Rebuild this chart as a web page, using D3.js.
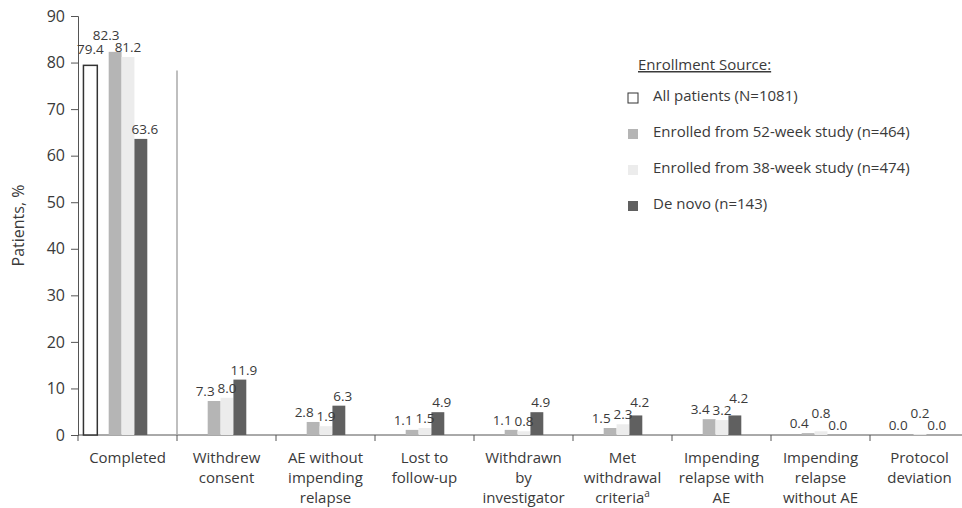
<!DOCTYPE html>
<html>
<head>
<meta charset="utf-8">
<script src="https://cdn.jsdelivr.net/npm/d3@7"></script>
<style>
  body { margin: 0; background: #fff; }
  svg { font-family: "Open Sans", sans-serif; }
</style>
</head>
<body>
<svg width="962" height="508"></svg>
<script>
// Reasons for study discontinuation, by enrollment source
const categories = [
    ["Completed"],
    ["Withdrew", "consent"],
    ["AE without", "impending", "relapse"],
    ["Lost to", "follow-up"],
    ["Withdrawn", "by", "investigator"],
    ["Met", "withdrawal", "criteria^a"],
    ["Impending", "relapse with", "AE"],
    ["Impending", "relapse", "without AE"],
    ["Protocol", "deviation"]
];
const allPatients = [79.4, null, null, null, null, null, null, null, null];
const wk52 = [82.3, 7.3, 2.8, 1.1, 1.1, 1.5, 3.4, 0.4, 0.0];
const wk38 = [81.2, 8.0, 1.9, 1.5, 0.8, 2.3, 3.2, 0.8, 0.2];
const deNovo = [63.6, 11.9, 6.3, 4.9, 4.9, 4.2, 4.2, 0.0, 0.0];
const yTicks = [0, 10, 20, 30, 40, 50, 60, 70, 80, 90];
const legendLabels = ["All patients (N=1081)", "Enrolled from 52-week study (n=464)",
    "Enrolled from 38-week study (n=474)", "De novo (n=143)"];

const series = [
    {key: "wk52", values: wk52, fill: "#b5b5b5", dx: -9},
    {key: "wk38", values: wk38, fill: "#ececec", dx: 0},
    {key: "deNovo", values: deNovo, fill: "#606060", dx: 4}
];

const svg = d3.select("svg");
const textColor = "#3a3a3a";
const plotLeft = 78, plotRight = 969, plotTop = 16, plotBottom = 435;

const x = d3.scaleBand().domain(d3.range(categories.length)).range([plotLeft, plotRight]);
const step = x.bandwidth();
const xSub = d3.scaleBand().domain(series.map(s => s.key)).range([step * 0.31, step * 0.7]);
const y = d3.scaleLinear().domain([0, 90]).range([plotBottom, plotTop]);

// y axis
const yAxis = svg.append("g")
    .attr("transform", "translate(" + plotLeft + ",0)")
    .call(d3.axisLeft(y).tickValues(yTicks).tickSize(7).tickPadding(6));
yAxis.select(".domain").attr("stroke", "#555");
yAxis.selectAll(".tick line").attr("stroke", "#555");
yAxis.selectAll("text").attr("font-size", 16).attr("fill", textColor)
    .attr("font-family", "'Open Sans', sans-serif");

svg.append("text")
    .attr("transform", "translate(24," + (y(45)) + ") rotate(-90)")
    .attr("text-anchor", "middle")
    .attr("font-size", 16)
    .attr("fill", textColor)
    .text("Patients, %");

// x axis
const xAxis = svg.append("g").attr("transform", "translate(0," + plotBottom + ")");
xAxis.append("line").attr("x1", plotLeft).attr("x2", plotRight).attr("stroke", "#555");
xAxis.selectAll("line.tick")
    .data(d3.range(categories.length + 1))
    .enter().append("line")
    .attr("class", "tick")
    .attr("x1", d => plotLeft + d * step).attr("x2", d => plotLeft + d * step)
    .attr("y1", 0).attr("y2", 6)
    .attr("stroke", "#555");

xAxis.selectAll("text.cat")
    .data(categories)
    .enter().append("text")
    .attr("class", "cat")
    .attr("text-anchor", "middle")
    .attr("font-size", 15)
    .attr("fill", textColor)
    .each(function (lines, i) {
        for (let j = 0; j < lines.length; j++) {
            const t = d3.select(this).append("tspan")
                .attr("x", x(i) + step / 2)
                .attr("y", 28 + j * 20);
            if (lines[j].endsWith("^a")) {
                t.text(lines[j].slice(0, -2));
                t.append("tspan").attr("font-size", 10).attr("dy", -6).text("a");
            } else {
                t.text(lines[j]);
            }
        }
    });

// separator after Completed
svg.append("line")
    .attr("x1", x(1)).attr("x2", x(1))
    .attr("y1", y(78.3)).attr("y2", plotBottom)
    .attr("stroke", "#aaa").attr("stroke-width", 1.5);

// All patients bar
const allData = allPatients.map((v, i) => ({v, i})).filter(d => d.v !== null);
svg.append("g").selectAll("rect")
    .data(allData)
    .enter().append("rect")
    .attr("x", d => x(d.i) + step * 0.055)
    .attr("width", step * 0.14)
    .attr("y", d => y(d.v))
    .attr("height", d => plotBottom - y(d.v))
    .attr("fill", "#fff").attr("stroke", "#333").attr("stroke-width", 1.5);

// grouped bars
const groups = svg.append("g").selectAll("g")
    .data(categories.map((c, i) => i))
    .enter().append("g")
    .attr("transform", i => "translate(" + x(i) + ",0)");

groups.selectAll("rect")
    .data(i => series.map(s => ({s, v: s.values[i]})))
    .enter().append("rect")
    .attr("x", d => xSub(d.s.key))
    .attr("width", xSub.bandwidth())
    .attr("y", d => y(d.v))
    .attr("height", d => plotBottom - y(d.v))
    .attr("fill", d => d.s.fill);

// value labels: shortest bars first, taller ones nudged up on collision
groups.each(function (i) {
    const g = d3.select(this);
    const placed = [];
    const items = [];
    if (allPatients[i] !== null) {
        items.push({v: allPatients[i], cx: step * 0.125, by: y(allPatients[i]) - 11});
    }
    series.forEach(s => {
        const v = s.values[i];
        items.push({v, cx: xSub(s.key) + xSub.bandwidth() / 2 + s.dx, by: y(v) - 5});
    });
    items.sort((a, b) => a.v - b.v);
    items.forEach(it => {
        const t = g.append("text")
            .attr("x", it.cx)
            .attr("text-anchor", "middle")
            .attr("font-size", 13.5).attr("fill", textColor)
            .text(it.v.toFixed(1));
        const w = t.node().getComputedTextLength();
        let by = it.by;
        let moved = true;
        while (moved) {
            moved = false;
            for (const p of placed) {
                if (Math.abs(it.cx - p.cx) < (w + p.w) / 2 - 2 && Math.abs(by - p.by) < 12) {
                    by = p.by - 12;
                    moved = true;
                }
            }
        }
        t.attr("y", by);
        placed.push({cx: it.cx, by, w});
    });
});

// legend
const legend = svg.append("g").attr("transform", "translate(627,0)");
legend.append("text")
    .attr("x", 11).attr("y", 70)
    .attr("font-size", 15).attr("fill", textColor)
    .attr("text-decoration", "underline")
    .text("Enrollment Source:");
const legendFills = [{fill: "#fff", stroke: "#333"}].concat(series.map(s => ({fill: s.fill, stroke: "none"})));
const rows = legend.selectAll("g.row")
    .data(legendLabels)
    .enter().append("g")
    .attr("class", "row")
    .attr("transform", (d, i) => "translate(0," + (95 + i * 36) + ")");
rows.append("rect")
    .attr("x", 1).attr("y", -2).attr("width", 10).attr("height", 10)
    .attr("fill", (d, i) => legendFills[i].fill)
    .attr("stroke", (d, i) => legendFills[i].stroke);
rows.append("text")
    .attr("x", 26).attr("y", 6)
    .attr("font-size", 15).attr("fill", textColor)
    .text(d => d);
</script>
</body>
</html>
